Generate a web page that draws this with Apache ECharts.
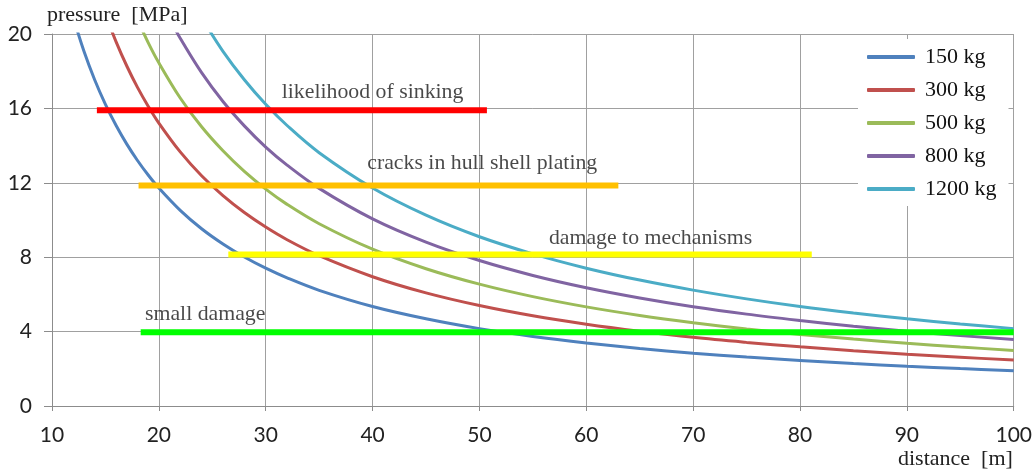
<!DOCTYPE html>
<html><head><meta charset="utf-8">
<script src="https://cdn.jsdelivr.net/npm/echarts@6/dist/echarts.min.js"></script>
<style>html,body{margin:0;padding:0;background:#fff}#c{width:1035px;height:470px}</style>
</head><body><div id="c"></div>
<script>
// ---- data ----
const seriesNames = ['150 kg', '300 kg', '500 kg', '800 kg', '1200 kg'];
const dist150 = [12,13,14,15,16,17,18,19,20,22,24,26,28,30,32,35,40,45,50,55,60,65,70,75,80,85,90,95,100];
const p150 = [20.86,19.06,17.53,16.22,15.08,14.08,13.20,12.42,11.72,10.52,9.53,8.71,8.01,7.41,6.89,6.22,5.35,4.69,4.16,3.74,3.39,3.09,2.84,2.63,2.45,2.28,2.14,2.01,1.90];
const dist300 = [15,16,17,18,19,20,22,24,26,28,30,32,35,40,45,50,55,60,65,70,75,80,85,90,95,100];
const p300 = [21.05,19.58,18.28,17.13,16.12,15.21,13.66,12.38,11.31,10.40,9.62,8.94,8.08,6.95,6.08,5.40,4.85,4.40,4.02,3.69,3.42,3.18,2.97,2.78,2.62,2.47];
const dist500 = [18,19,20,22,24,26,28,30,32,35,40,45,50,55,60,65,70,75,80,85,90,95,100];
const p500 = [20.77,19.54,18.45,16.56,15.01,13.72,12.61,11.66,10.84,9.80,8.43,7.38,6.55,5.88,5.33,4.87,4.48,4.14,3.85,3.60,3.37,3.17,2.99];
const dist800 = [21,22,24,26,28,30,32,35,40,45,50,55,60,65,70,75,80,85,90,95,100];
const p800 = [20.83,19.77,17.92,16.37,15.06,13.92,12.95,11.70,10.06,8.81,7.82,7.02,6.36,5.81,5.34,4.94,4.60,4.29,4.02,3.79,3.57];
const dist1200 = [24,26,28,30,32,35,40,45,50,55,60,65,70,75,80,85,90,95,100];
const p1200 = [20.87,19.07,17.54,16.22,15.08,13.62,11.72,10.26,9.10,8.18,7.41,6.77,6.23,5.76,5.35,5.00,4.69,4.41,4.16];

// damage thresholds: level, start distance, end distance, label, label anchor (distance, pressure)
const thresholdNames = ['likelihood of sinking', 'cracks in hull shell plating', 'damage to mechanisms', 'small damage'];
const thresholdLevel = [15.9, 11.85, 8.15, 3.97];
const thresholdStart = [14.2, 18.1, 26.5, 18.3];
const thresholdEnd = [50.7, 63.0, 81.1, 100];
const labelAnchorX = [31.5, 39.5, 56.5, 18.7];
const labelAnchorY = [16.85, 13.07, 9.03, 4.94];

const xTicks = [10,20,30,40,50,60,70,80,90,100];
const yTicks = [0,4,8,12,16,20];

// ---- styles ----
const curveColors = ['#4F81BD', '#C0504D', '#9BBB59', '#8064A2', '#4BACC6'];
const thresholdColors = ['#FF0000', '#FFC000', '#FFFF00', '#00FF00'];
const serif = '"Liberation Serif", "DejaVu Serif", serif';
const sans = 'Lato, "Open Sans", sans-serif';

const curveX = [dist150, dist300, dist500, dist800, dist1200];
const curveY = [p150, p300, p500, p800, p1200];

const series = [];
seriesNames.forEach((n, i) => {
  series.push({
    name: n, type: 'line', smooth: 0.35, showSymbol: false, symbol: 'none', clip: true,
    lineStyle: { color: curveColors[i], width: 3 }, itemStyle: { color: curveColors[i] },
    data: curveX[i].map((x, k) => [x, curveY[i][k]]), z: 3
  });
});
thresholdNames.forEach((n, i) => {
  series.push({
    name: 'thr' + i, type: 'line', showSymbol: false, symbol: 'none', clip: false,
    lineStyle: { color: thresholdColors[i], width: 6, cap: 'butt' },
    data: [[thresholdStart[i], thresholdLevel[i]], [thresholdEnd[i], thresholdLevel[i]]], z: 4,
    silent: true
  });
  series.push({
    name: 'lab' + i, type: 'scatter', symbolSize: 0, silent: true, z: 5,
    data: [[labelAnchorX[i], labelAnchorY[i]]],
    label: { show: true, position: 'right', distance: 0, formatter: n,
      fontFamily: serif, fontSize: 21.8, color: '#1a1a1a' }
  });
});

const chart = echarts.init(document.getElementById('c'), null, { renderer: 'canvas' });
chart.setOption({
  animation: false,
  backgroundColor: '#fff',
  grid: { left: 52, right: 21, top: 34, bottom: 64, containLabel: false },
  xAxis: {
    type: 'value', min: 10, max: 100, interval: 10,
    axisLine: { show: true, lineStyle: { color: '#8c8c8c', width: 1 } },
    axisTick: { show: true, length: 5, lineStyle: { color: '#8c8c8c' } },
    axisLabel: { margin: 19, fontFamily: sans, fontSize: 21, color: '#222',
      formatter: v => xTicks.includes(v) ? String(v) : '' },
    splitLine: { show: true, lineStyle: { color: '#a0a0a0', width: 1 } }
  },
  yAxis: {
    type: 'value', min: 0, max: 20, interval: 4,
    axisLine: { show: true, lineStyle: { color: '#8c8c8c', width: 1 } },
    axisTick: { show: true, length: 8, lineStyle: { color: '#8c8c8c' } },
    axisLabel: { margin: 20, fontFamily: sans, fontSize: 21, color: '#222',
      formatter: v => yTicks.includes(v) ? String(v) : '' },
    splitLine: { show: true, lineStyle: { color: '#a0a0a0', width: 1 } }
  },
  legend: {
    data: seriesNames, orient: 'vertical', left: 858, top: 39,
    backgroundColor: '#fff', padding: [6, 12, 5, 9], itemGap: 9,
    icon: 'roundRect', itemWidth: 48, itemHeight: 4,
    textStyle: { fontFamily: serif, fontSize: 22, color: '#111', lineHeight: 24, padding: [0, 0, 0, 5] },
    z: 10
  },
  graphic: [
    { type: 'text', left: 47, top: 4, style: { text: 'pressure  [MPa]', font: '22px ' + serif, fill: '#222' } },
    { type: 'text', left: 898, top: 448, style: { text: 'distance  [m]', font: '22px ' + serif, fill: '#222' } }
  ],
  series
});
</script></body></html>
